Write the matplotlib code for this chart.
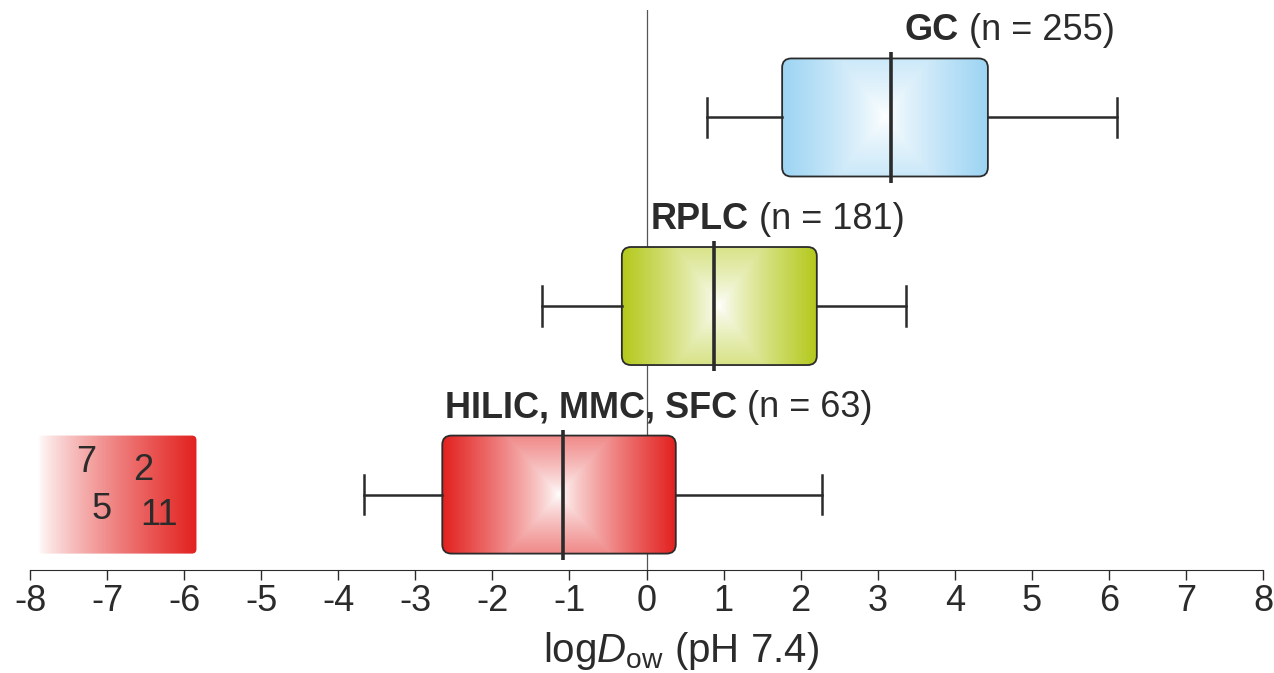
import numpy as np
import matplotlib
matplotlib.use("Agg")
import matplotlib.pyplot as plt
from matplotlib.patches import FancyBboxPatch
from matplotlib.colors import to_rgb

plt.rcParams['font.family'] = ['Liberation Sans', 'DejaVu Sans']
plt.rcParams['mathtext.fontset'] = 'custom'
plt.rcParams['mathtext.rm'] = 'Liberation Sans'
plt.rcParams['mathtext.it'] = 'Liberation Sans:italic'
plt.rcParams['axes.unicode_minus'] = False

# Daten
groups = ['GC', 'RPLC', 'HILIC, MMC, SFC']
n_obs = [255, 181, 63]
q1 = [1.76, -0.32, -2.65]
median = [3.17, 0.88, -1.08]
q3 = [4.43, 2.21, 0.38]
whisk_lo = [0.79, -1.36, -3.66]
whisk_hi = [6.11, 3.37, 2.28]
colors = ['#9dd4f3', '#b4c91c', '#e2211f']
ypos = [3, 2, 1]
label_x = [3.35, 0.06, -2.62]

# Ausreißer links (Anzahl)
out_counts = [7, 2, 5, 11]
out_xy = [(-7.27, 1.17), (-6.53, 1.13), (-7.07, 0.92), (-6.32, 0.89)]
out_range = [-7.9, -5.84]

txt = '#2b2b2b'
fig = plt.figure(figsize=(12.74, 6.73), dpi=100)
ax = fig.add_axes([30 / 1274, 103 / 673, 1233 / 1274, 560 / 673])
ax.set_xlim(-8, 8)
ax.set_ylim(0.6, 3.57)

h = 0.626  # Boxhöhe


def gradient_box(x0, x1, yc, color, mode='rect'):
    nx, ny = 300, 120
    xx, yy = np.meshgrid(np.linspace(-1, 1, nx), np.linspace(-1, 1, ny))
    if mode == 'rect':
        t = np.maximum(np.abs(xx), 0.45 * np.abs(yy))
        f = np.clip(t, 0, 1) ** 0.8
    else:
        f = (np.linspace(0, 1, nx)[None, :] * np.ones((ny, 1))) ** 0.8
    c = np.array(to_rgb(color))
    img = (1 - f[..., None]) * np.ones(3) + f[..., None] * c
    im = ax.imshow(img, extent=[x0, x1, yc - h / 2, yc + h / 2],
                   aspect='auto', zorder=2, interpolation='bilinear')
    return im


ax.axvline(0, color='#555555', lw=0.9, zorder=1)

for i in range(len(groups)):
    y = ypos[i]
    im = gradient_box(q1[i], q3[i], y, colors[i])
    patch = FancyBboxPatch((q1[i], y - h / 2), q3[i] - q1[i], h,
                           boxstyle='round,pad=0,rounding_size=0.12',
                           mutation_aspect=0.4,
                           fc='none', ec='#2b2b2b', lw=1.3, zorder=3)
    ax.add_patch(patch)
    im.set_clip_path(patch)
    # Whisker
    ax.plot([whisk_lo[i], q1[i]], [y, y], color='#2b2b2b', lw=1.8, zorder=3)
    ax.plot([q3[i], whisk_hi[i]], [y, y], color='#2b2b2b', lw=1.8, zorder=3)
    for wx in (whisk_lo[i], whisk_hi[i]):
        ax.plot([wx, wx], [y - 0.105, y + 0.105], color='#2b2b2b', lw=1.8, zorder=3)
    ax.plot([median[i], median[i]], [y - 0.345, y + 0.345], color='#2b2b2b',
            lw=2.6, zorder=4, solid_capstyle='butt')
    # Beschriftung
    t1 = ax.text(label_x[i], y + 0.46, groups[i], fontsize=26, fontweight='bold',
                 color=txt, va='center', ha='left')
    ax.annotate(' (n = %d)' % n_obs[i], xy=(1, 0.5), xycoords=t1,
                fontsize=26, color=txt, va='center', ha='left')

# Bereich außerhalb der Achse (links)
im = gradient_box(out_range[0], out_range[1], 1, colors[2], mode='lin')
patch = FancyBboxPatch((out_range[0], 1 - h / 2), out_range[1] - out_range[0], h,
                       boxstyle='round,pad=0,rounding_size=0.06',
                       mutation_aspect=0.4, fc='none', ec='none', zorder=3)
ax.add_patch(patch)
im.set_clip_path(patch)
for cnt, (x, y) in zip(out_counts, out_xy):
    ax.text(x, y, str(cnt), fontsize=26, color=txt, ha='center', va='center', zorder=5)

for s in ['left', 'right', 'top']:
    ax.spines[s].set_visible(False)
ax.spines['bottom'].set_color('#2b2b2b')
ax.set_yticks([])
ax.set_xticks(range(-8, 9))
ax.tick_params(axis='x', direction='out', length=7, width=1, colors=txt,
               labelsize=26, pad=3)
ax.set_xlabel(r'log$\mathit{D}_{\mathrm{ow}}$ (pH 7.4)', fontsize=29, color=txt)
ax.xaxis.set_label_coords(0.528, -0.108)

fig.savefig('out.png', dpi=100)
